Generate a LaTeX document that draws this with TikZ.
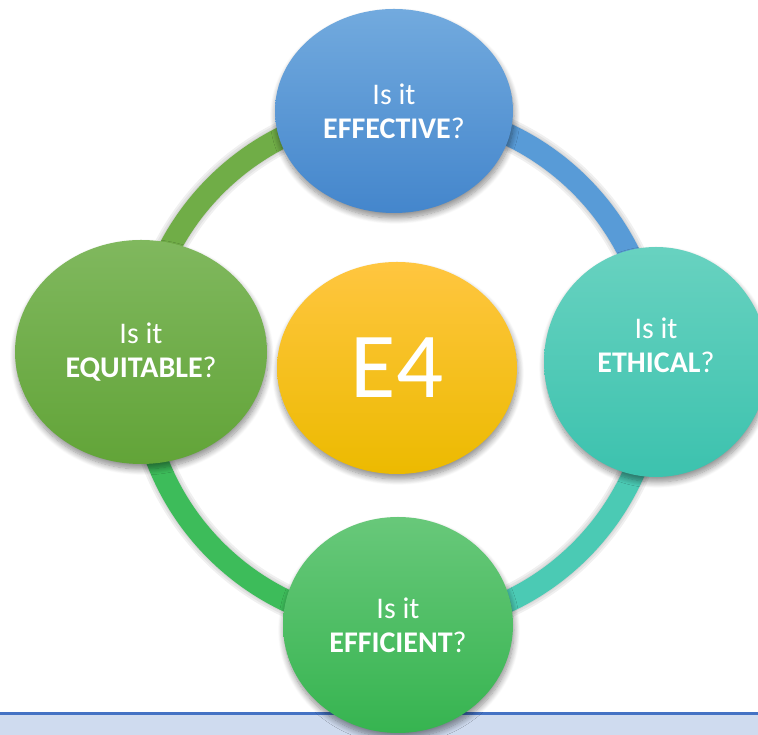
\documentclass[tikz,border=0pt]{standalone}
\usepackage{fontspec}
\setmainfont{Carlito}
\usetikzlibrary{shapes.geometric,shadows.blur}

\definecolor{effTop}{RGB}{114,170,222}
\definecolor{effBot}{RGB}{68,134,204}
\definecolor{ethTop}{RGB}{104,210,192}
\definecolor{ethBot}{RGB}{60,194,174}
\definecolor{effiTop}{RGB}{104,200,122}
\definecolor{effiBot}{RGB}{54,180,80}
\definecolor{equTop}{RGB}{128,184,94}
\definecolor{equBot}{RGB}{98,164,56}
\definecolor{eTop}{RGB}{255,198,64}
\definecolor{eMid}{RGB}{255,192,0}
\definecolor{eBot}{RGB}{236,186,0}
\definecolor{ringEqu}{RGB}{112,173,71}
\definecolor{ringEff}{RGB}{88,155,215}
\definecolor{ringEth}{RGB}{75,202,180}
\definecolor{ringEffi}{RGB}{61,188,90}
\definecolor{bandFill}{RGB}{207,219,239}
\definecolor{bandLine}{RGB}{68,114,196}

\tikzset{
  bubble/.style={ellipse,inner sep=0pt,text=white,align=center,
    font=\fontsize{30}{34}\selectfont,
    blur shadow={shadow xshift=1pt,shadow yshift=-5pt,shadow blur radius=6pt,
      shadow blur steps=10,shadow opacity=45}},
  link/.style={line width=22pt},
}

\begin{document}
\begin{tikzpicture}[x=1pt,y=1pt]
  \useasboundingbox (0,0) rectangle (758,735);

  % strip along the bottom
  \fill[bandFill] (0,0) rectangle (758,21);
  \draw[bandLine,line width=3pt] (0,21.7) -- (758,21.7);

  % ring
  \coordinate (ring) at (398,367);
  \coordinate (r-n) at (398,625);
  \coordinate (r-e) at (656,367);
  \coordinate (r-s) at (398,109);
  \coordinate (r-w) at (140,367);
  \foreach \w in {32,28,24}
    \draw[line width=\w pt,black,opacity=.06,shift={(2,-4)}] (ring) circle[radius=258];
  \draw[link,ringEqu] (r-w) arc[start angle=180,end angle=90,radius=258];
  \draw[link,ringEff] (r-n) arc[start angle=90,end angle=0,radius=258];
  \draw[link,ringEth] (r-e) arc[start angle=0,end angle=-90,radius=258];
  \draw[link,ringEffi] (r-s) arc[start angle=-90,end angle=-180,radius=258];

  % the four questions
  \node[bubble,minimum width=238pt,minimum height=204pt,
    top color=effTop,bottom color=effBot] (effective) at (394,624)
    {Is it\\\textbf{EFFECTIVE}?};
  \node[bubble,minimum width=224pt,minimum height=230pt,
    top color=ethTop,bottom color=ethBot] (ethical) at (656,373)
    {Is it\\\textbf{ETHICAL}?\\~};
  \node[bubble,minimum width=252pt,minimum height=224pt,
    top color=equTop,bottom color=equBot] (equitable) at (141,383)
    {Is it\\\textbf{EQUITABLE}?};
  \node[bubble,minimum width=230pt,minimum height=216pt,
    top color=effiTop,bottom color=effiBot] (efficient) at (398,110)
    {Is it\\\textbf{EFFICIENT}?};

  % middle
  \node[bubble,minimum width=240pt,minimum height=212pt,
    font=\fontsize{93}{100}\selectfont,
    top color=eTop,middle color=eMid,bottom color=eBot] (e4) at (397,367) {E4};
\end{tikzpicture}
\end{document}
